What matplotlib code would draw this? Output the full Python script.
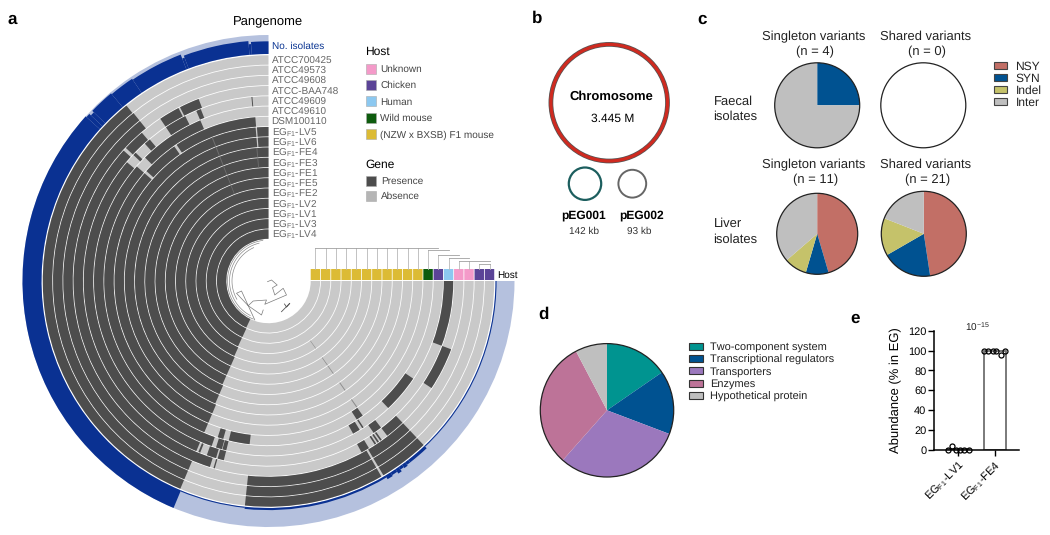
import numpy as np
import matplotlib
matplotlib.use('Agg')
import matplotlib.pyplot as plt
from matplotlib.patches import Circle, Rectangle

plt.rcParams['font.family'] = ['Liberation Sans', 'DejaVu Sans']
plt.rcParams['mathtext.fontset'] = 'custom'
plt.rcParams['mathtext.rm'] = 'Liberation Sans'
plt.rcParams['mathtext.default'] = 'rm'
plt.rcParams['text.hinting'] = 'no_hinting'
plt.rcParams['text.hinting_factor'] = 1

W, H = 1050, 535

# panel a: ring names run from the outermost ring to the innermost one
ring_names = ['ATCC700425', 'ATCC49573', 'ATCC49608', 'ATCC-BAA748', 'ATCC49609', 'ATCC49610',
              'DSM100110', 'EG$_{F1}$-LV5', 'EG$_{F1}$-LV6', 'EG$_{F1}$-FE4', 'EG$_{F1}$-FE3',
              'EG$_{F1}$-FE1', 'EG$_{F1}$-FE5', 'EG$_{F1}$-FE2', 'EG$_{F1}$-LV2', 'EG$_{F1}$-LV1',
              'EG$_{F1}$-LV3', 'EG$_{F1}$-LV4']
ring_hosts = ['Chicken', 'Chicken', 'Unknown', 'Unknown', 'Human', 'Chicken', 'Wild mouse'] + ['F1'] * 11

# gene presence per ring, as (from, to) in degrees counterclockwise from the top
gene_presence = [
    [(39, 157), (174, 210), (210.6, 223.4)],
    [(38.8, 157), (174, 210), (210.6, 223.4)],
    [(38.8, 157), (174, 210), (210.6, 223.4)],
    [(21, 27), (27.5, 33.7), (40.5, 47), (48, 162.5), (163.6, 164), (208.5, 211), (213, 213.5),
     (214, 214.5), (215, 215.5), (217.5, 223.4), (236.7, 249.5)],
    [(5, 5.3), (21.5, 23), (26.8, 33.7), (40, 42), (46, 47), (50, 157), (157.7, 158.3),
     (160.5, 163.5), (164, 166), (214.7, 217.5), (249.5, 270)],
    [(23, 45), (49, 161), (162.5, 164.5), (164.7, 166), (209, 211.5), (212.5, 213), (223.3, 236)],
    [(4.6, 34), (35, 48), (49, 157), (162, 164), (166, 173.4), (212.5, 215)],
    [(0, 4.3), (4.8, 157)],
    [(0, 4.3), (4.8, 157)],
    [(0, 156.5)], [(0, 156.5)], [(0, 156)], [(0, 156)], [(0, 156)],
    [(0, 155.5)], [(0, 155)], [(0, 155)], [(0, 154.5)],
]
absent_ticks = [(7, 215), (9, 215), (11, 215), (12, 215), (14, 215)]
present_ticks = [(7, 21.4), (8, 21.4), (9, 21.4), (10, 21.4), (11, 21.4), (12, 21.4), (9, 5), (10, 5)]

iso_edges = [0, 4.2, 4.8, 20.6, 21.2, 34, 40, 46, 47, 48, 157.3, 174, 211, 212.5, 214, 215, 216,
             217, 218, 223.4, 270]
iso_count = [12, 10, 13, 11, 15, 16, 17, 15, 17, 18, 1, 2, 4, 3, 5, 3, 4, 3, 3, 1]

# dendrogram above the host strip: leaf order is innermost ring first
leaf_height = [21] * 11 + [19, 14, 11, 8, 8, 5, 5]
tree_joins = [(0, 12, 21), (11, 13, 19), (12, 14, 14), (13, 15, 11), (14, 17, 8), (16, 17, 5)]

# small tree in the centre hole, offsets from the circle centre
tree_x = [-1, 3, 8.7, 4, 6.3, 14.7, 18, -3.7, -2, -15.3, -20.3, -7, -5.3]
tree_y = [0.7, -1, 4, 6.7, 14, 7.3, 14, 23.3, 19, 20, 24.7, 34, 29]
twig_x = [-20.3, -32, -27, -13.7]
twig_y = [24.7, 12.3, 10, 39]
tail_x = [13, 21.3, 18, 16]
tail_y = [30.7, 22.3, 26, 23]
arc_from = [8, 14, 24]
arc_to = [158, 152, 120]
arc_r = [41, 39, 36.5]

host_names = ['Unknown', 'Chicken', 'Human', 'Wild mouse', '(NZW x BXSB) F1 mouse']
host_keys = ['Unknown', 'Chicken', 'Human', 'Wild mouse', 'F1']
host_colors = ['#f49ac9', '#5b4497', '#8cc8f0', '#0e5c0e', '#dcbb35']
gene_names = ['Presence', 'Absence']
gene_colors = ['#4d4d4d', '#b5b5b5']

# panel c
variant_names = ['NSY', 'SYN', 'Indel', 'Inter']
variant_colors = ['#c26f66', '#005291', '#c5c26a', '#bfbfbf']
faecal_single = [0, 1, 0, 3]
faecal_shared = [0, 0, 0, 0]
liver_single = [5, 1, 1, 4]
liver_shared = [10, 4, 3, 4]

# panel d
func_names = ['Two-component system', 'Transcriptional regulators', 'Transporters', 'Enzymes',
              'Hypothetical protein']
func_values = [2, 2, 4, 4, 1]
func_colors = ['#009490', '#005291', '#9b78bd', '#bd7398', '#bfbfbf']

# panel e
abund_labels = ['EG$_{F1}$-LV1', 'EG$_{F1}$-FE4']
abund_means = [1, 99.5]
abund_lv1 = [0.3, 4, 0.2, -0.5, 0.2, 0.2]
abund_fe4 = [100, 100, 100, 100, 96, 100]
swarm_offset = [-0.28, -0.17, -0.05, 0.05, 0.17, 0.29]

fig = plt.figure(figsize=(W / 100, H / 100), dpi=100)


def px_axes(x0, y0, x1, y1, **kw):
    return fig.add_axes([x0 / W, 1 - y1 / H, (x1 - x0) / W, (y1 - y0) / H], **kw)


# circular pangenome
cx, cy, rmax = 268.5, 281, 250
ring_step = 10.24
ring_gap = 0.8
pol = px_axes(cx - rmax, cy - rmax, cx + rmax, cy + rmax, projection='polar')
pol.set_theta_zero_location('N')
pol.set_theta_direction(1)
pol.set_ylim(0, rmax)
pol.axis('off')
r_center = [221 - ring_step * i for i in range(len(ring_names))]
for i, segs in enumerate(gene_presence):
    r0 = r_center[i] - ring_step / 2 + ring_gap / 2
    pol.bar(0, ring_step - ring_gap, width=np.radians(270), bottom=r0, align='edge', color='#c9c9c9', lw=0)
    for a, b in segs:
        pol.bar(np.radians(a), ring_step - ring_gap, width=np.radians(b - a), bottom=r0, align='edge',
                color='#4d4d4d', lw=0)
for i, a in absent_ticks:
    pol.bar(np.radians(a), ring_step - ring_gap, width=np.radians(0.4),
            bottom=r_center[i] - ring_step / 2 + ring_gap / 2, color='#8c8c8c', lw=0)
for i, a in present_ticks:
    pol.bar(np.radians(a), ring_step - ring_gap, width=np.radians(0.4),
            bottom=r_center[i] - ring_step / 2 + ring_gap / 2, color='#6e6e6e', lw=0)
iso_base = 227
iso_full = 19
pol.bar(0, iso_full, width=np.radians(270), bottom=iso_base, align='edge', color='#b5c1de', lw=0)
for k, c in enumerate(iso_count):
    pol.bar(np.radians(iso_edges[k]), iso_full * c / 18, width=np.radians(iso_edges[k + 1] - iso_edges[k]),
            bottom=iso_base, align='edge', color='#0a3192', lw=0)
for a0, a1, r in zip(arc_from, arc_to, arc_r):
    th = np.radians(np.linspace(a0, a1, 80))
    pol.plot(th, np.full_like(th, r), color='#8a8a8a', lw=0.5)

# overlay in pixel coordinates for text, legends and the host strip
ov = px_axes(0, 0, W, H)
ov.set_xlim(0, W)
ov.set_ylim(H, 0)
ov.axis('off')
ov.patch.set_alpha(0)


def label(x, y, s, size, **kw):
    # baseline anchor keeps rows evenly spaced whatever the glyphs are
    ov.text(x, y + 0.36 * size * 100 / 72, s, fontsize=size, va='baseline', **kw)


ov.plot(cx + np.array(tree_x), cy + np.array(tree_y), color='#7a7a7a', lw=0.5)
ov.plot(cx + np.array(twig_x), cy + np.array(twig_y), color='#7a7a7a', lw=0.5)
ov.plot(cx + np.array(tail_x), cy + np.array(tail_y), color='#555555', lw=0.6)

host_lookup = dict(zip(host_keys, host_colors))
strip_top, strip_bot = 269, 280
for i, (r, h) in enumerate(zip(r_center, ring_hosts)):
    cell = Rectangle((cx + r - ring_step / 2 + 0.4, strip_top), ring_step - 0.8, strip_bot - strip_top,
                     fc=host_lookup[h], ec='none')
    cell.set_snap(False)
    ov.add_patch(cell)
leaf_x = [cx + r for r in r_center[::-1]]
for x, h in zip(leaf_x, leaf_height):
    ov.plot([x, x], [strip_top, strip_top - h], color='#b8b8b8', lw=0.6)
for a, b, h in tree_joins:
    ov.plot([leaf_x[a], leaf_x[b]], [strip_top - h, strip_top - h], color='#a0a0a0', lw=0.6)
label(497.5, 274.5, 'Host', 7.5, color='black')

label(268, 20.5, 'Pangenome', 9.3, ha='center')
label(271.5, 45.5, 'No. isolates', 7.5, color='#0a3592')
for k, name in enumerate(ring_names):
    label(271.5, 60 + 10.24 * k, name, 7.5, color='#666666')

label(365.5, 50.5, 'Host', 8.8)
for y, name, col in zip([68.7, 85, 101.3, 117.7, 134.3], host_names, host_colors):
    ov.add_patch(Rectangle((365.7, y - 5), 10, 10, fc=col, ec='#aaaaaa', lw=0.4))
    label(380, y - 0.5, name, 7.5, color='#444444')
label(365.5, 163.5, 'Gene', 8.8)
for y, name, col in zip([181, 195.7], gene_names, gene_colors):
    ov.add_patch(Rectangle((365.7, y - 5), 10, 10, fc=col, ec='#aaaaaa', lw=0.4))
    label(381, y - 0.5, name, 7.5, color='#444444')

# panel letters
for x, y, s in [(8, 18, 'a'), (532, 17, 'b'), (697, 18, 'c'), (538, 313, 'd'), (850, 317, 'e')]:
    label(x, y, s, 12.5, fontweight='bold')

# panel b
ov.add_patch(Circle((609.2, 102.7), 58.3, fill=False, ec='#555555', lw=3.4))
ov.add_patch(Circle((609.2, 102.7), 58.3, fill=False, ec='#cf2a20', lw=2.3))
ov.add_patch(Circle((585, 183.7), 16.2, fill=False, ec='#1c5e5e', lw=1.6))
ov.add_patch(Circle((632.3, 183.7), 13.9, fill=False, ec='#666666', lw=1.4))
label(611.7, 95.3, 'Chromosome', 9, fontweight='bold', ha='center')
label(612.7, 117.5, '3.445 M', 8.8, ha='center')
label(583.3, 214.5, 'pEG001', 8.8, fontweight='bold', ha='center')
label(642, 214.5, 'pEG002', 8.8, fontweight='bold', ha='center')
label(583.7, 230, '142 kb', 7.2, ha='center', color='#333333')
label(639.3, 230, '93 kb', 7.2, ha='center', color='#333333')


def draw_pie(x, y, r, values, colors):
    pie_ax = px_axes(x - r * 1.1, y - r * 1.1, x + r * 1.1, y + r * 1.1)
    if sum(values) > 0:
        pie_ax.pie(values, colors=colors, startangle=90, counterclock=False, radius=1)
    pie_ax.add_patch(Circle((0, 0), 1, fill=False, ec='#222222', lw=0.9))
    pie_ax.set_xlim(-1.1, 1.1)
    pie_ax.set_ylim(-1.1, 1.1)
    pie_ax.axis('off')


# panel c
draw_pie(817.2, 105.3, 42.5, faecal_single, variant_colors)
draw_pie(923.3, 105.3, 42.5, faecal_shared, variant_colors)
draw_pie(817.2, 233.8, 40.5, liver_single, variant_colors)
draw_pie(923.8, 233.8, 42.5, liver_shared, variant_colors)
for x, y, s in [(813.7, 35.7, 'Singleton variants'), (815.3, 51, '(n = 4)'),
                (925.3, 35.7, 'Shared variants'), (927.3, 51, '(n = 0)'),
                (813.3, 163.5, 'Singleton variants'), (815.3, 179, '(n = 11)'),
                (925.7, 163.5, 'Shared variants'), (927.3, 179, '(n = 21)')]:
    label(x, y, s, 9, ha='center', color='#222222')
for y, s in [(100, 'Faecal'), (115.5, 'isolates'), (222.7, 'Liver'), (238.3, 'isolates')]:
    label(713.5, y, s, 9, color='#222222')
for y, name, col in zip([65, 77, 89, 101], variant_names, variant_colors):
    ov.add_patch(Rectangle((994, y - 3.5), 12.7, 7, fc=col, ec='#444444', lw=0.8))
    label(1015.5, y, name, 8.8, color='#222222')

# panel d
draw_pie(607, 410.3, 66.7, func_values, func_colors)
for y, name, col in zip([346, 358.3, 370.7, 383, 395.3], func_names, func_colors):
    ov.add_patch(Rectangle((688.5, y - 3.5), 14, 7, fc=col, ec='#333333', lw=0.8))
    label(710, y, name, 8, color='#222222')

# panel e
ax = px_axes(934, 330.7, 1018.7, 450)
ax.bar([0, 1], abund_means, width=0.6, color='white', edgecolor='#707070', lw=1.3)
for i, vals in enumerate([abund_lv1, abund_fe4]):
    ax.plot([i + d for d in swarm_offset], vals, 'o', mfc='none', mec='black', ms=3.6, mew=0.9,
            clip_on=False, zorder=5)
ax.set_xlim(-0.66, 1.66)
ax.set_ylim(0, 120)
ax.set_yticks(range(0, 121, 20))
ax.set_xticks([0, 1])
ax.set_xticklabels(abund_labels, rotation=45, ha='right', rotation_mode='anchor', fontsize=7.6)
ax.tick_params(axis='y', labelsize=7.6, length=4, width=1, pad=1.5)
ax.tick_params(axis='x', length=4, width=1, pad=2)
ax.set_ylabel('Abundance (% in EG)', fontsize=9, labelpad=3)
ax.yaxis.set_label_coords((901.7 - 934) / (1018.7 - 934), 0.5)
ax.spines['top'].set_visible(False)
ax.spines['right'].set_visible(False)
ax.spines['left'].set_linewidth(1.1)
ax.spines['bottom'].set_linewidth(1.1)
ov.plot([957.7, 995], [336.3, 336.3], color='#222222', lw=0.9)
label(977, 327.5, '10$^{-15}$', 7, ha='center', color='#222222')

fig.savefig('out.png', dpi=100)
